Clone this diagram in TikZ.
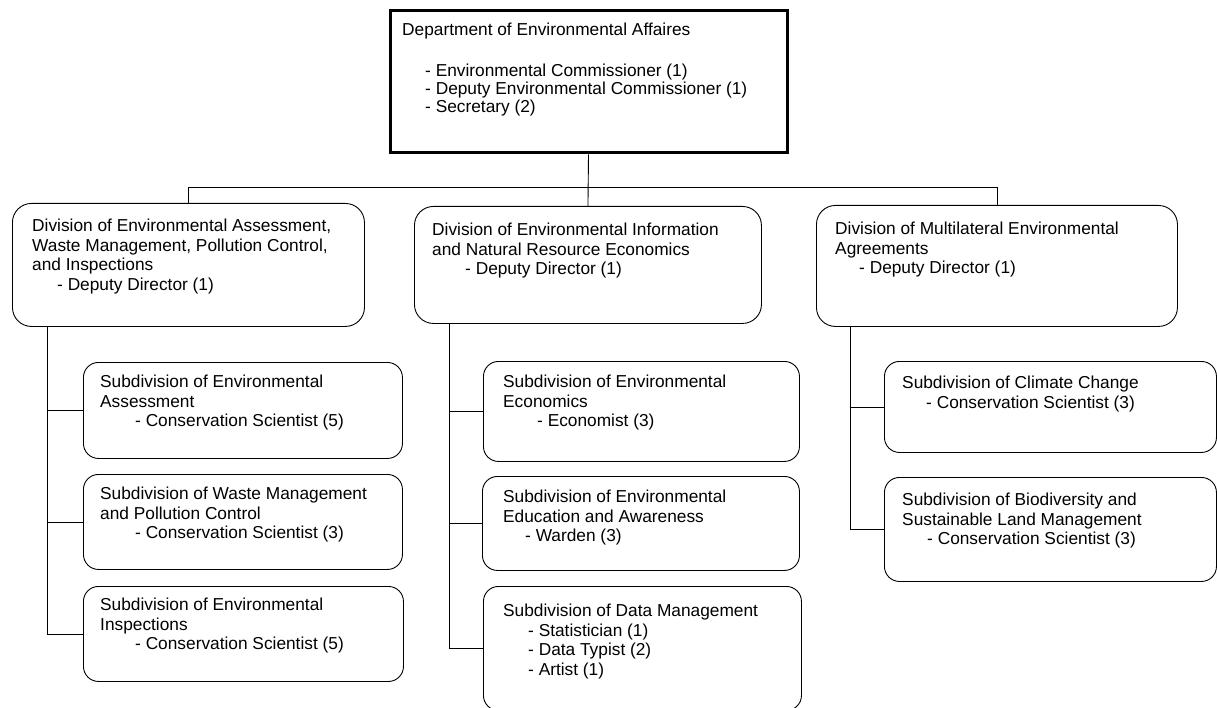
\documentclass[tikz,border=0pt]{standalone}
\usepackage{fontspec}
\setmainfont{Liberation Sans}
\usetikzlibrary{positioning}

\newcommand{\staff}[2][24pt]{\hspace*{#1}- #2}

\tikzset{
  orgtext/.style={anchor=north west, align=left, inner sep=0pt, font=\fontsize{17.3}{19.5}\selectfont},
  headbox/.style={draw, line width=3pt, anchor=north west, inner sep=0pt},
  divbox/.style={draw, line width=0.9pt, rounded corners=19pt, anchor=north west, inner sep=0pt},
  subbox/.style={draw, line width=0.9pt, rounded corners=15pt, anchor=north west, inner sep=0pt},
  link/.style={line width=0.9pt}
}

\begin{document}
\begin{tikzpicture}[x=1pt, y=-1pt]
    \useasboundingbox (0,0) rectangle (1217,708);

    % department
    \node[headbox, minimum width=397pt, minimum height=142pt] (head) at (388.5,9.5) {};
    \node[orgtext, font=\fontsize{17.3}{18}\selectfont] (head-txt) at ([shift={(13.5,13.2)}]head.north west) {Department of Environmental Affaires\\[23pt]
        \staff[23pt]{Environmental Commissioner (1)}\\
        \staff[23pt]{Deputy Environmental Commissioner (1)}\\
        \staff[23pt]{Secretary (2)}};

    % divisions
    \node[divbox, minimum width=352pt, minimum height=123pt] (div-ea) at (12,203) {};
    \node[orgtext] (div-ea-txt) at ([shift={(20,16)}]div-ea.north west) {Division of Environmental Assessment,\\
        Waste Management, Pollution Control,\\
        and Inspections\\
        \staff[25pt]{Deputy Director (1)}};

    \node[divbox, minimum width=347pt, minimum height=117pt] (div-ei) at (414,206) {};
    \node[orgtext] (div-ei-txt) at ([shift={(18,17)}]div-ei.north west) {Division of Environmental Information\\
        and Natural Resource Economics\\
        \staff[33pt]{Deputy Director (1)}};

    \node[divbox, minimum width=361pt, minimum height=121pt] (div-mea) at (816,205) {};
    \node[orgtext] (div-mea-txt) at ([shift={(19,17)}]div-mea.north west) {Division of Multilateral Environmental\\
        Agreements\\
        \staff{Deputy Director (1)}};

    % subdivisions, left
    \node[subbox, minimum width=319pt, minimum height=96pt] (sub-ea) at (83,362) {};
    \node[orgtext] (sub-ea-txt) at ([shift={(17,13)}]sub-ea.north west) {Subdivision of Environmental\\
        Assessment\\
        \staff[35pt]{Conservation Scientist (5)}};

    \node[subbox, minimum width=319pt, minimum height=95pt] (sub-wm) at (83,474) {};
    \node[orgtext] (sub-wm-txt) at ([shift={(17,13)}]sub-wm.north west) {Subdivision of Waste Management\\
        and Pollution Control\\
        \staff[35pt]{Conservation Scientist (3)}};

    \node[subbox, minimum width=320pt, minimum height=95pt] (sub-ei) at (83,586) {};
    \node[orgtext] (sub-ei-txt) at ([shift={(17,12)}]sub-ei.north west) {Subdivision of Environmental\\
        Inspections\\
        \staff[35pt]{Conservation Scientist (5)}};

    % subdivisions, middle
    \node[subbox, minimum width=316pt, minimum height=100pt] (sub-ee) at (483,361) {};
    \node[orgtext] (sub-ee-txt) at ([shift={(20,14)}]sub-ee.north west) {Subdivision of Environmental\\
        Economics\\
        \staff[34pt]{Economist (3)}};

    \node[subbox, minimum width=317pt, minimum height=94pt] (sub-eea) at (482,476) {};
    \node[orgtext] (sub-eea-txt) at ([shift={(21,14)}]sub-eea.north west) {Subdivision of Environmental\\
        Education and Awareness\\
        \staff[22pt]{Warden (3)}};

    \node[subbox, minimum width=318pt, minimum height=124pt] (sub-dm) at (483,586) {};
    \node[orgtext] (sub-dm-txt) at ([shift={(20,18)}]sub-dm.north west) {Subdivision of Data Management\\
        \staff[25pt]{Statistician (1)}\\
        \staff[25pt]{Data Typist (2)}\\
        \staff[25pt]{Artist (1)}};

    % subdivisions, right
    \node[subbox, minimum width=332pt, minimum height=91pt] (sub-cc) at (884,361) {};
    \node[orgtext] (sub-cc-txt) at ([shift={(18,15)}]sub-cc.north west) {Subdivision of Climate Change\\
        \staff{Conservation Scientist (3)}};

    \node[subbox, minimum width=332pt, minimum height=104pt] (sub-bd) at (884,477) {};
    \node[orgtext] (sub-bd-txt) at ([shift={(18,16)}]sub-bd.north west) {Subdivision of Biodiversity and\\
        Sustainable Land Management\\
        \staff[25pt]{Conservation Scientist (3)}};

    % links
    \draw[link] (head.south) -- (div-ei.north);
    \draw[link] (div-ea.north) -- ++(0,-16) -| (div-mea.north);

    \coordinate (spine-ea) at ([xshift=35pt]div-ea.south west);
    \coordinate (spine-ei) at ([xshift=35pt]div-ei.south west);
    \coordinate (spine-mea) at ([xshift=34pt]div-mea.south west);

    \draw[link] (spine-ea) |- (sub-ei.west);
    \draw[link] (spine-ea |- sub-ea.west) -- (sub-ea.west);
    \draw[link] (spine-ea |- sub-wm.west) -- (sub-wm.west);

    \draw[link] (spine-ei) |- (sub-dm.west);
    \draw[link] (spine-ei |- sub-ee.west) -- (sub-ee.west);
    \draw[link] (spine-ei |- sub-eea.west) -- (sub-eea.west);

    \draw[link] (spine-mea) |- (sub-bd.west);
    \draw[link] (spine-mea |- sub-cc.west) -- (sub-cc.west);
\end{tikzpicture}
\end{document}
